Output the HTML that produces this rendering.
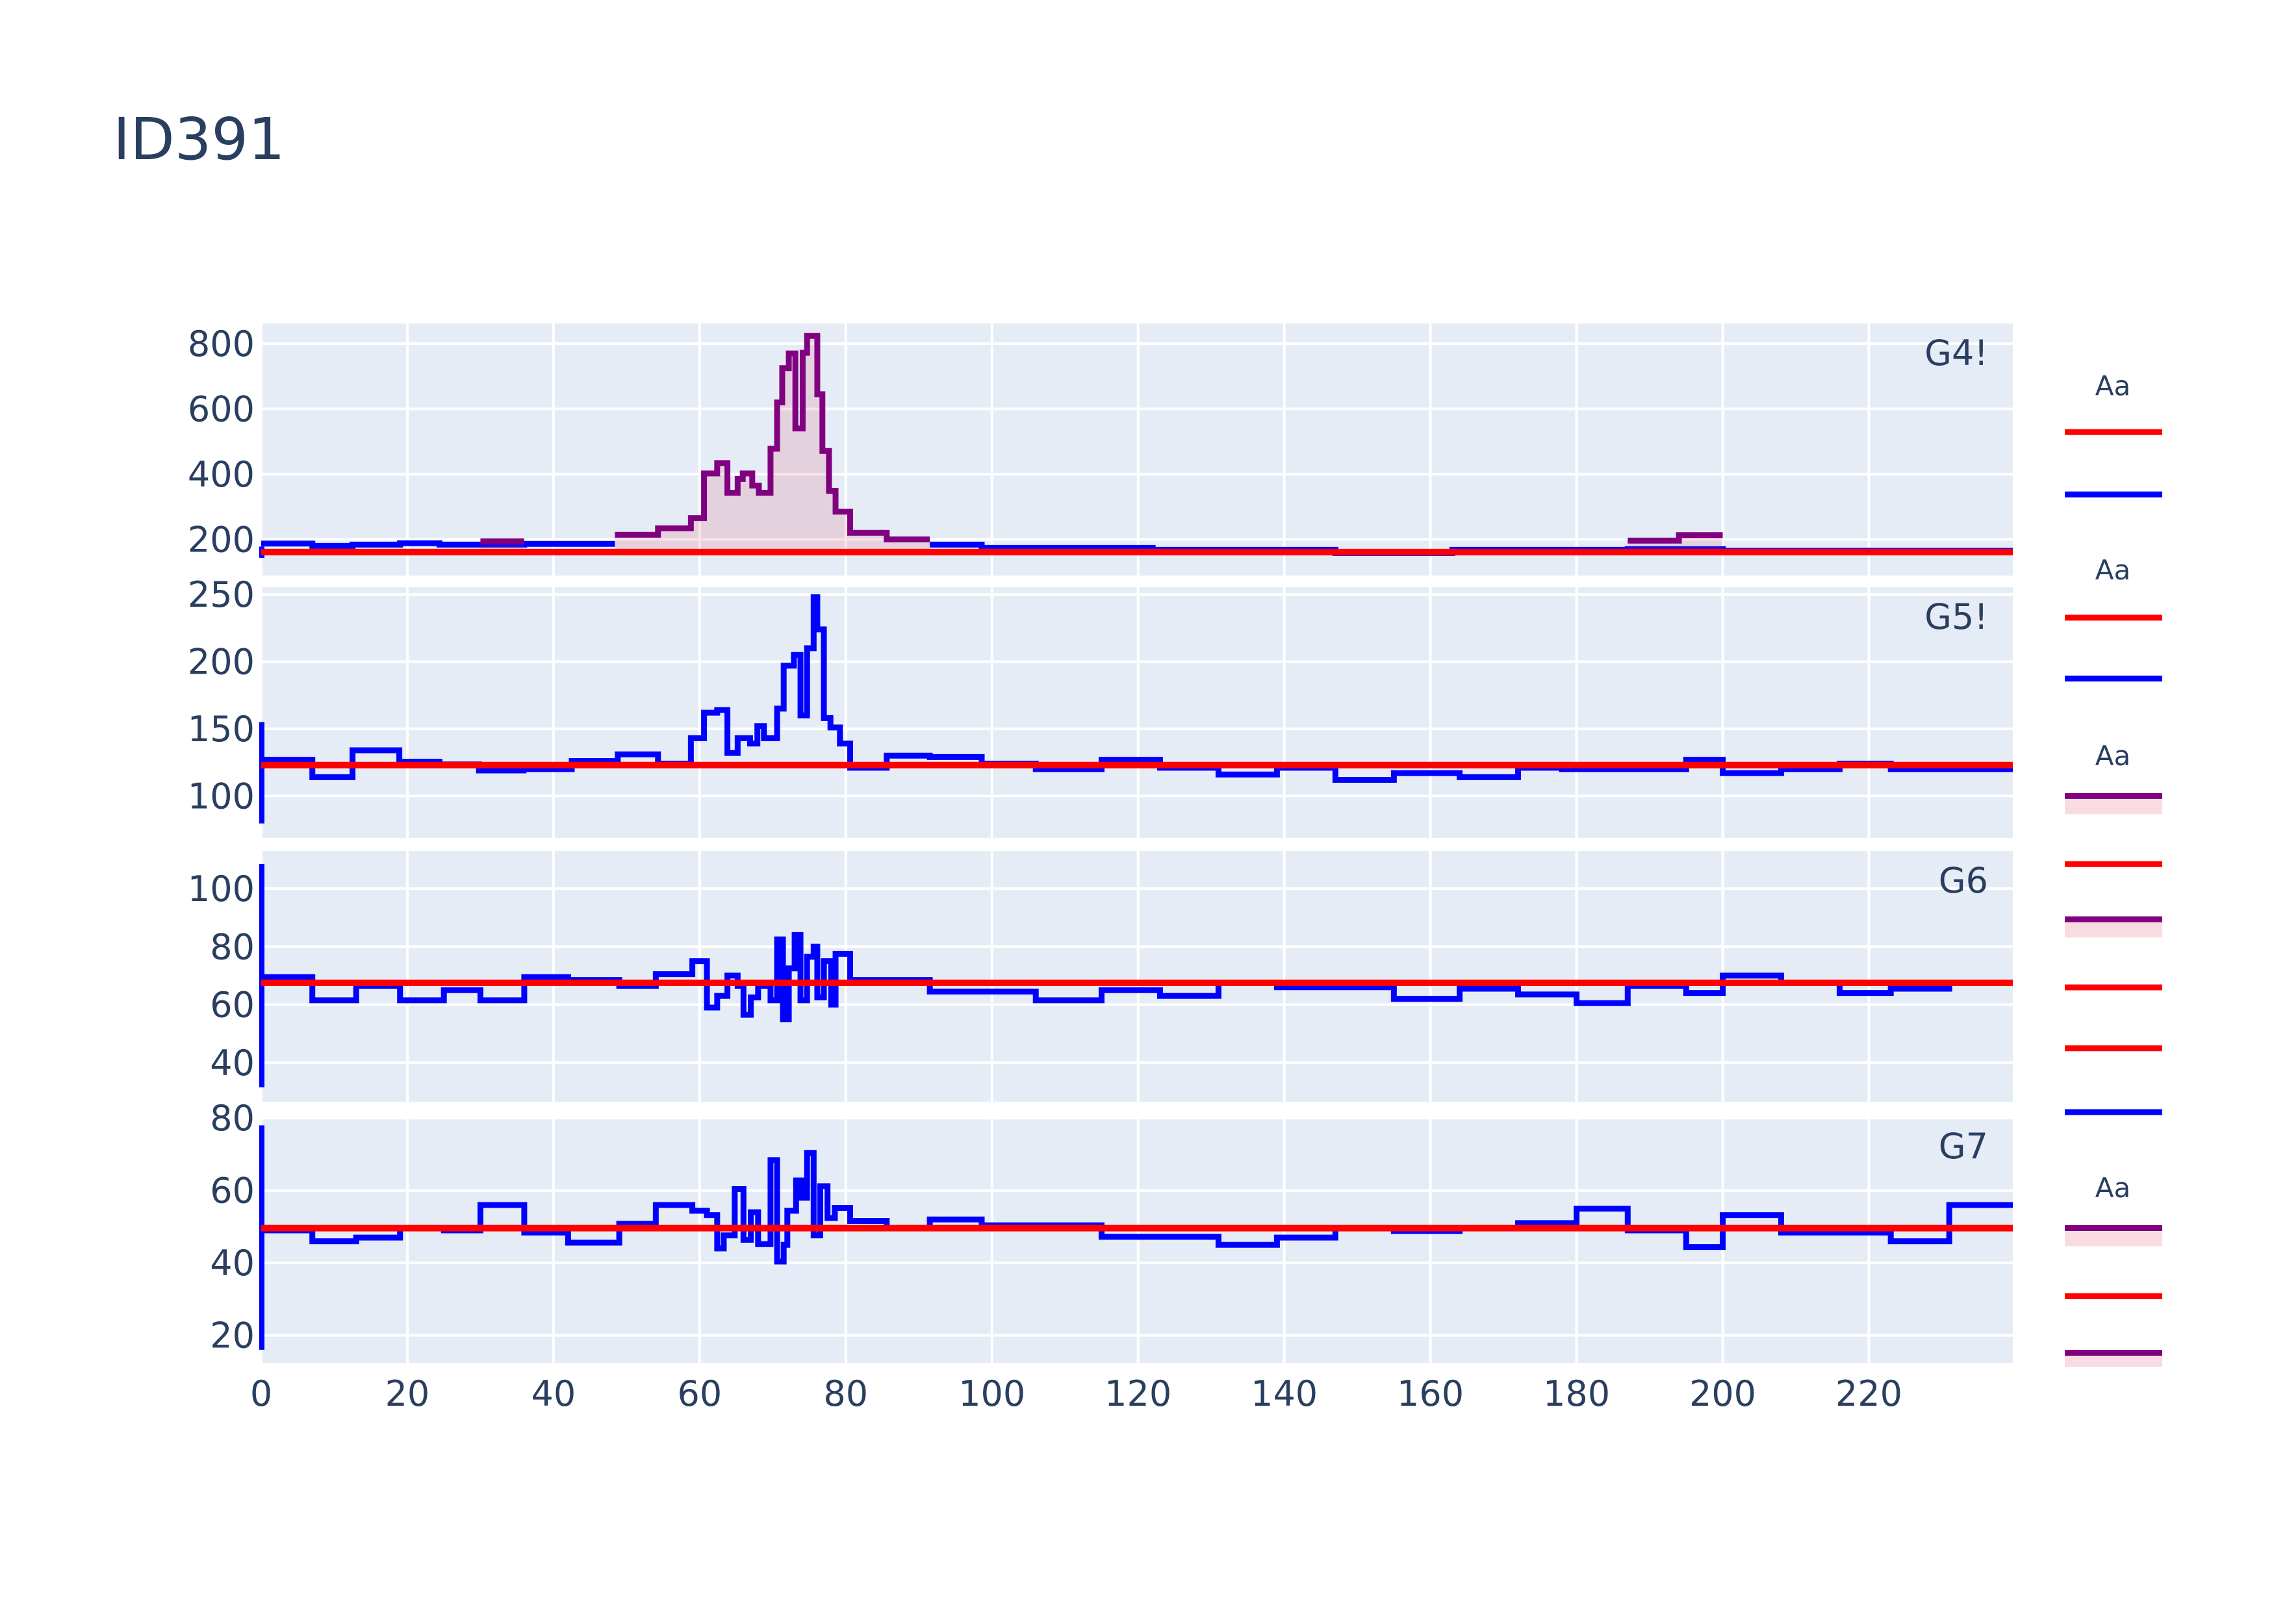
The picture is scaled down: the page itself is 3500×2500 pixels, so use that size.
<!DOCTYPE html>
<html><head><meta charset="utf-8"><style>
html,body{margin:0;padding:0;background:#fff}
svg{display:block}
text{font-family:"DejaVu Sans","Liberation Sans",sans-serif;fill:#2a3f5f}
</style></head><body>
<svg id="chart" xmlns="http://www.w3.org/2000/svg" width="3500" height="2500" viewBox="0 0 3500 2500">
<rect width="3500" height="2500" fill="#fff"/>
<text x="174" y="245" font-size="89">ID391</text>
<g id="panels"></g>
<g id="legend"></g>
</svg>
<script>
// ---- data ----
const xTicks = [0,20,40,60,80,100,120,140,160,180,200,220];
const panelNames = ["G4!","G5!","G6","G7"];
const g4Ticks = [200,400,600,800];
const g5Ticks = [100,150,200,250];
const g6Ticks = [40,60,80,100];
const g7Ticks = [20,40,60,80];
const refLevels = [161,123,67.5,49.6];
const edgeLo = [143,79.5,31.5,16];
const edgeHi = [178,155,108.5,78];

const g4BlueX = [0,7,12.5,19,24.4,30,36,42,48.4,91.5,98.6,122,147,163,187,200];
const g4BlueV = [187,180,184,188,184,184,186,186,null,184,174,168,158,168,170,165];
const g4PurpleX = [30,36,48.4,54.3,58.8,60.6,62.4,63.8,65.2,65.9,67.2,68.1,69.7,70.6,71.3,72.2,73.1,74.1,74.7,76.1,76.8,77.7,78.6,80.6,85.6,91.5,187,194,200];
const g4PurpleV = [194,null,214,234,265,402,434,343,385,402,365,343,478,620,725,770,540,772,824,645,471,349,285,220,200,null,196,213,null];

const g5X = [0,7,12.5,18.9,24.4,29.8,35.9,42.5,48.8,54.3,58.8,60.6,62.4,63.8,65.2,66.9,67.9,68.8,70.6,71.5,72.9,73.8,74.7,75.6,76.1,77,77.9,79.2,80.6,85.6,91.5,98.6,106,115,123,131,139,147,155,164,172,178,195,200,208,216,223];
const g5V = [127,114,134,125.5,123.5,119,120,126,131,124,143,162,164,132,143,139,152,143,165,197,205,160,210,248,224,158,151,139,121,130,129,124,120,127,121,116,121,112,117,114,121,120,127,117,120,124,120];

const g6X = [0,7,13,19,25,30,36,42,49,54,59,61,62.4,63.8,65.2,66,67,68,69.7,70.6,71.4,72.2,73,73.8,74.7,75.6,76.1,77,78,78.6,80.6,91.5,106,115,123,131,139,155,164,172,180,187,195,200,208,216,223,231];
const g6V = [69.5,61.5,66.5,61.5,65,61.5,69.5,68.5,66.5,70.5,75,59,63,70,66.5,56.5,62.5,66.5,61.5,82.5,55,72.5,84,61.5,76.5,80,62.5,75,60,77.5,68.5,64.5,61.5,65,63,67.5,66,62,65.5,63.5,60.5,66.5,64,70,67.5,64,65.5,67.5];

const g7X = [0,7,13,19,25,30,36,42,49,54,59,61,62.4,63.3,64.8,66,67,68,69.7,70.6,71.5,72,73.2,74,74.7,75.6,76.5,77.5,78.5,80.6,85.6,91.5,98.6,115,131,139,147,155,164,172,180,187,195,200,208,223,231];
const g7V = [49,46,47,49.6,49,56,48.4,45.6,50.8,56,54.4,53.2,44,47.6,60.4,46.4,54,45.2,68.4,40.4,45,54.4,62.8,58,70.4,47.6,61.2,52.4,55.2,51.6,49.6,52,50.4,47.2,45,47,49.6,48.8,49.6,51,55,49,44.4,53.2,48.4,46,56];

// ---- layout ----
const X0 = 402, XR = 3098, XMIN = 0, XMAX = 239.7;
const panels = [
  {top:498,bot:886,lo:89,hi:862,ticks:g4Ticks},
  {top:904,bot:1290,lo:68.7,hi:255.4,ticks:g5Ticks},
  {top:1310,bot:1696,lo:26.5,hi:113,ticks:g6Ticks},
  {top:1719,bot:2098,lo:12.4,hi:80.4,ticks:g7Ticks}
];
const NS = "http://www.w3.org/2000/svg";
function X(v){return X0+(v-XMIN)/(XMAX-XMIN)*(XR-X0);}
function Y(p,v){return p.bot-(v-p.lo)/(p.hi-p.lo)*(p.bot-p.top);}
function mk(tag,attrs,parent){const e=document.createElementNS(NS,tag);for(const k in attrs)e.setAttribute(k,attrs[k]);parent.appendChild(e);return e;}
function stepPaths(p,xs,vs){
  const segs=[];let cur=null;
  for(let i=0;i<xs.length;i++){
    const v=vs[i];
    const xe = i+1<xs.length ? xs[i+1] : XMAX;
    if(v===null){ if(cur){segs.push(cur);cur=null;} continue; }
    if(!cur){cur={d:"M"+X(xs[i])+","+Y(p,v),x0:xs[i]};}
    else {cur.d+=" V"+Y(p,v);}
    cur.d+=" H"+X(xe);
    cur.x1=xe;
  }
  if(cur)segs.push(cur);
  return segs;
}
const root=document.getElementById("panels");
const series=[[g4BlueX,g4BlueV],[g5X,g5V],[g6X,g6V],[g7X,g7V]];
panels.forEach((p,i)=>{
  const g=mk("g",{},root);
  
  
  const bg=mk("rect",{x:X0,y:p.top,width:XR-X0,height:p.bot-p.top,fill:"#E5ECF6"},g);
  
  
  xTicks.forEach(t=>{
    const l=mk("line",{x1:X(t),x2:X(t),y1:p.top,y2:p.bot,stroke:"#fff","stroke-width":4},g);
    
    
  });
  p.ticks.forEach(t=>{
    const l=mk("line",{x1:X0,x2:XR,y1:Y(p,t),y2:Y(p,t),stroke:"#fff","stroke-width":4},g);
    
    
    const tx=mk("text",{x:392,y:Y(p,t)+19,"font-size":54,"text-anchor":"end"},g);
    tx.textContent=t;
    
    
  });
  const clipId="clip"+i;
  const cp=mk("clipPath",{id:clipId},g);
  mk("rect",{x:X0-6,y:p.top,width:XR-X0+6,height:p.bot-p.top},cp);
  const pg=mk("g",{"clip-path":"url(#"+clipId+")"},g);
  const s=series[i];
  stepPaths(p,s[0],s[1]).forEach(seg=>{
    const pa=mk("path",{d:seg.d,fill:"none",stroke:"#0000ff","stroke-width":9,"stroke-linejoin":"miter"},pg);
    
    
  });
  if(i===0){
    const ry=Y(p,refLevels[0]);
    stepPaths(p,g4PurpleX,g4PurpleV).forEach(seg=>{
      const f=mk("path",{d:seg.d+" V"+ry+" H"+X(seg.x0)+" Z",fill:"rgba(220,60,90,0.15)",stroke:"none"},pg);
      
      
      const pa=mk("path",{d:seg.d,fill:"none",stroke:"#800080","stroke-width":9},pg);
      
      
    });
  }
  const ed=mk("line",{x1:X(0)+1,x2:X(0)+1,y1:Y(p,edgeLo[i]),y2:Y(p,edgeHi[i]),stroke:"#0000ff","stroke-width":8},pg);
  
  
  const rl=mk("line",{x1:X0,x2:XR,y1:Y(p,refLevels[i]),y2:Y(p,refLevels[i]),stroke:"#ff0000","stroke-width":10},pg);
  
  
  const an=mk("text",{x:3060,y:p.top+64,"font-size":54,"text-anchor":"end"},g);
  an.textContent=panelNames[i];
  
  
});
const last=panels[3];
xTicks.forEach(t=>{
  const tx=mk("text",{x:X(t),y:last.bot+66,"font-size":54,"text-anchor":"middle"},root);
  tx.textContent=t;
  
  
});
const leg=document.getElementById("legend");
const legendItems=[["aa",266],["red",298],["blue",341],["aa",393],["red",426],["blue",468],["aa",521],["purple",549],["red",596],["purple",634],["red",681],["red",723],["blue",767],["aa",819],["purple",847],["red",894],["purple",933]];
legendItems.forEach(it=>{
  const y=it[1]*2.232;
  if(it[0]==="aa"){
    const t=mk("text",{x:3252,y:y+15,"font-size":42,"text-anchor":"middle"},leg);
    t.textContent="Aa";
    
    
    return;
  }
  const g=mk("g",{},leg);
  
  
  if(it[0]==="purple"){
    mk("rect",{x:3178,y:y,width:150,height:Math.min(28,2098-y+6),fill:"rgba(220,60,90,0.18)"},g);
  }
  const col=it[0]==="red"?"#ff0000":it[0]==="blue"?"#0000ff":"#800080";
  mk("line",{x1:3178,x2:3328,y1:y,y2:y,stroke:col,"stroke-width":9},g);
});
</script>
</body></html>
